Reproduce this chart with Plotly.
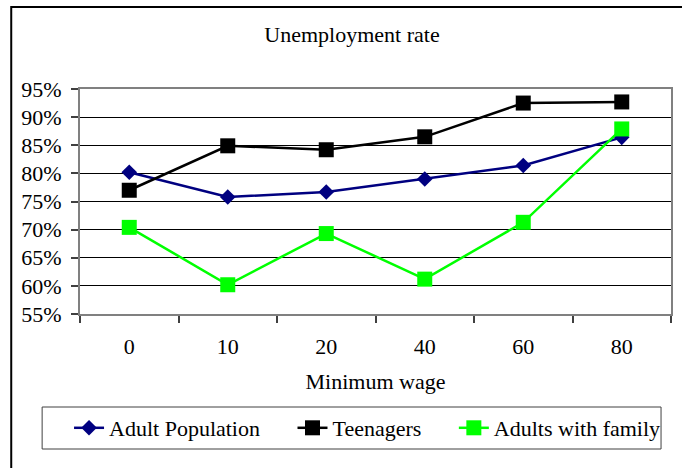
import plotly.graph_objects as go

categories = ["0", "10", "20", "40", "60", "80"]
adult_population = [80.2, 75.8, 76.7, 79.0, 81.4, 86.4]
teenagers = [77.0, 84.9, 84.2, 86.5, 92.5, 92.7]
adults_with_family = [70.4, 60.2, 69.3, 61.2, 71.3, 87.9]
y_ticks = [55, 60, 65, 70, 75, 80, 85, 90, 95]
series_names = ["Adult Population", "Teenagers", "Adults with family"]

FONT = "Liberation Serif, Times New Roman, serif"
FS = 22
PAD = "\u00a0" * 5

fig = go.Figure()
fig.add_trace(go.Scatter(
    x=categories, y=adult_population, name=series_names[0] + PAD, mode="lines+markers",
    line=dict(color="#000080", width=2.5),
    marker=dict(symbol="diamond", size=12, color="#000080")))
fig.add_trace(go.Scatter(
    x=categories, y=teenagers, name=series_names[1] + PAD, mode="lines+markers",
    line=dict(color="#000000", width=2.5),
    marker=dict(symbol="square", size=15, color="#000000")))
fig.add_trace(go.Scatter(
    x=categories, y=adults_with_family, name=series_names[2], mode="lines+markers",
    line=dict(color="#00FF00", width=2.5),
    marker=dict(symbol="square", size=15, color="#00FF00")))

L, R, T, B = 80, 9, 89, 154
W, H = 682, 468
pw, ph = W - L - R, H - T - B

def px_x(px):
    return (px - L) / pw

def px_y(py):
    return (H - B - py) / ph

fig.update_layout(
    width=W, height=H,
    margin=dict(l=L, r=R, t=T, b=B),
    paper_bgcolor="white", plot_bgcolor="white",
    font=dict(family=FONT, size=FS, color="black"),
    title=dict(text="Unemployment rate", x=352 / W, xref="container", xanchor="center",
               y=1 - 34 / H, yref="container", yanchor="middle",
               font=dict(family=FONT, size=FS, color="black")),
    xaxis=dict(
        type="category", range=[-0.5, 5.5], tickson="boundaries",
        ticks="outside", ticklen=7, tickcolor="#404040", tickwidth=1.5,
        showline=True, linecolor="#808080", linewidth=2, mirror=True,
        showgrid=False, ticklabelstandoff=12,
        tickfont=dict(family=FONT, size=FS),
        title=dict(text="Minimum wage", font=dict(family=FONT, size=FS), standoff=15)),
    yaxis=dict(
        range=[55, 95], tickvals=y_ticks, ticktext=[f"{v}%" for v in y_ticks],
        ticks="outside", ticklen=7, tickcolor="#404040", tickwidth=1.5,
        showline=True, linecolor="#808080", linewidth=2, mirror=True,
        showgrid=True, gridcolor="#000000", gridwidth=1, zeroline=False,
        ticklabelstandoff=5,
        tickfont=dict(family=FONT, size=FS)),
    legend=dict(
        orientation="h", x=px_x(69), y=px_y(407), xanchor="left", yanchor="top",
        borderwidth=0, bgcolor="rgba(0,0,0,0)",
        font=dict(family=FONT, size=FS), itemwidth=30, tracegroupgap=0),
    showlegend=True,
    shapes=[
        dict(type="rect", xref="paper", yref="paper",
             x0=px_x(11), x1=px_x(700), y0=px_y(480), y1=px_y(7),
             line=dict(color="black", width=2), layer="below"),
        dict(type="rect", xref="paper", yref="paper",
             x0=px_x(42), x1=px_x(663), y0=px_y(449), y1=px_y(407),
             line=dict(color="#404040", width=1), fillcolor="white", layer="below"),
    ],
)

fig.write_html("out.html")
